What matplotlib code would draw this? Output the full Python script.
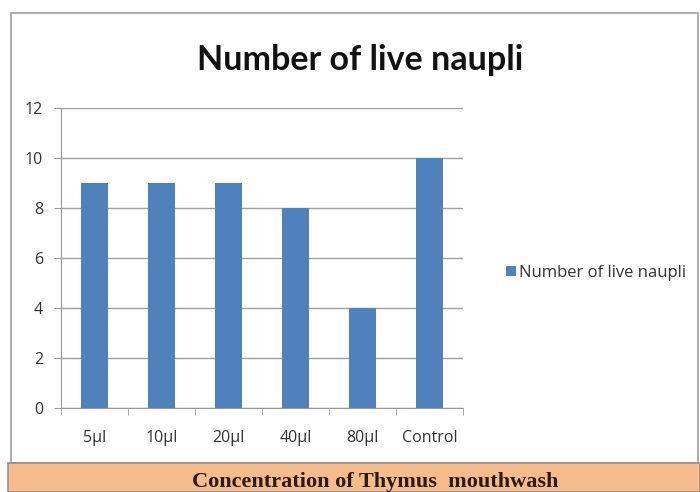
import matplotlib.pyplot as plt
import numpy as np
from matplotlib.patches import Rectangle

# concentrations and counts
kategori = ['5µl', '10µl', '20µl', '40µl', '80µl', 'Control']
jumlah_naupli = [9, 9, 9, 8, 4, 10]
y_ticks = [0, 2, 4, 6, 8, 10, 12]

warna_bar = '#4F81BD'
plt.rcParams['font.family'] = ['Open Sans', 'DejaVu Sans']

fig = plt.figure(figsize=(7, 4.92), dpi=100)

# outer chart frame
fig.patches.append(Rectangle((11 / 700, 1 - 463 / 492), 687 / 700, 450 / 492,
                             transform=fig.transFigure, facecolor='white',
                             edgecolor='#a0a0a0', linewidth=1.2, zorder=0))
# orange caption band
fig.patches.append(Rectangle((8 / 700, 0), 692 / 700, 29 / 492,
                             transform=fig.transFigure, facecolor='#F7BC8C',
                             edgecolor='#909090', linewidth=1.2, zorder=1))
fig.text(375 / 700, 5 / 492, 'Concentration of Thymus  mouthwash', ha='center', va='baseline',
         family='Liberation Serif', fontweight='bold', fontsize=16, color='#2a1a10')

ax = fig.add_axes([61 / 700, 1 - 408 / 492, 402 / 700, 300 / 492])
ax.set_zorder(2)
ax.patch.set_alpha(0)
x = np.arange(len(kategori))
ax.bar(x, jumlah_naupli, width=0.4, color=warna_bar, label='Number of live naupli', zorder=3)

ax.set_xlim(-0.5, len(kategori) - 0.5)
ax.set_ylim(0, 12)
ax.set_yticks(y_ticks)
ax.set_xticks(x)
ax.set_xticklabels(kategori)
ax.set_xticks(np.arange(-0.5, len(kategori), 1), minor=True)
ax.tick_params(axis='x', which='major', length=0, pad=16, labelsize=11.5, labelcolor='#333333')
ax.tick_params(axis='x', which='minor', length=5, color='#999999', direction='out')
ax.tick_params(axis='y', length=5, color='#999999', labelsize=11.5, labelcolor='#333333', pad=8)
ax.grid(axis='y', color='#a0a0a0', linewidth=1.0, zorder=0)
for s in ['top', 'right']:
    ax.spines[s].set_visible(False)
ax.spines['left'].set_color('#999999')
ax.spines['bottom'].set_color('#999999')

fig.text(360 / 700, 1 - 70 / 492, 'Number of live naupli', ha='center', va='baseline',
         family='Lato', fontsize=24.5, fontweight='bold', color='#111111', zorder=3)

ax.legend(loc='center left', bbox_to_anchor=(1.07, 0.45), frameon=False,
          handlelength=0.6, handleheight=0.6, handletextpad=0.2, fontsize=12,
          labelcolor='#333333')

fig.savefig('out.png', dpi=100)
